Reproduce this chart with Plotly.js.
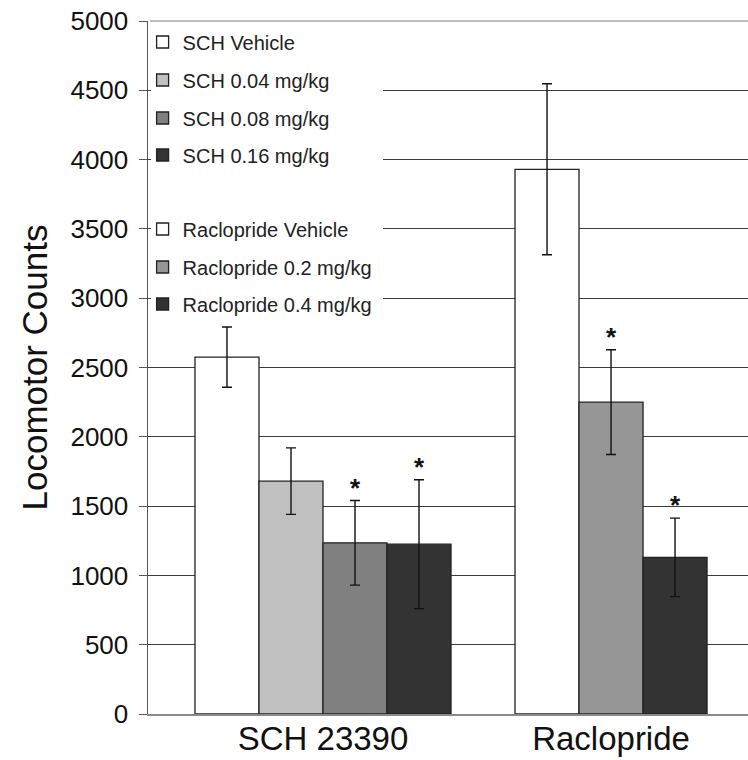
<!DOCTYPE html>
<html>
<head>
<meta charset="utf-8">
<script src="https://cdn.plot.ly/plotly-3.0.1.min.js"></script>
<style>
  html, body { margin: 0; padding: 0; background: #fff; }
  #chart { width: 748px; height: 760px; }
</style>
</head>
<body>
<div id="chart"></div>
<script>
// ---- data ----
const groups = ["SCH 23390", "Raclopride"];
const schNames = ["SCH Vehicle", "SCH 0.04 mg/kg", "SCH 0.08 mg/kg", "SCH 0.16 mg/kg"];
const schMeans = [2575, 1680, 1235, 1225];
const schErr = [217, 240, 305, 465];
const schSig = [false, false, true, true];
const racNames = ["Raclopride Vehicle", "Raclopride 0.2 mg/kg", "Raclopride 0.4 mg/kg"];
const racMeans = [3930, 2250, 1130];
const racErr = [617, 378, 283];
const racSig = [false, true, true];
const yTicks = [0, 500, 1000, 1500, 2000, 2500, 3000, 3500, 4000, 4500, 5000];

// ---- styles ----
const schColors = ["#ffffff", "#c0c0c0", "#808080", "#333333"];
const racColors = ["#ffffff", "#969696", "#333333"];
const FONT = "Liberation Sans, Arial, sans-serif";

// legend item vertical centres (pixels from top of figure)
const legendPix = [42, 80, 118, 155, 229, 267, 304];
const plotTop = 21, plotBottom = 714, plotLeft = 148, plotRight = 748;
const plotH = plotBottom - plotTop, plotW = plotRight - plotLeft;

const traces = [];
const annotations = [];
let legendIdx = 0;

function addSeries(names, means, errs, sigs, colors, startPos) {
  names.forEach((nm, i) => {
    const pos = startPos + i;
    const lname = legendIdx === 0 ? "legend" : "legend" + (legendIdx + 1);
    traces.push({
      type: "bar",
      name: nm,
      x: [pos],
      y: [means[i]],
      width: 1,
      legend: lname,
      marker: { color: colors[i], line: { color: "#222222", width: 1.3 } },
      error_y: { type: "data", array: [errs[i]], visible: true, color: "#111111", thickness: 1.4, width: 5 },
      hoverinfo: "name+y"
    });
    if (sigs[i]) {
      annotations.push({
        x: pos, y: means[i] + errs[i], xref: "x", yref: "y",
        text: "<b>*</b>", showarrow: false, yanchor: "bottom",
        yshift: -4, font: { family: FONT, size: 26, color: "#111" }
      });
    }
    legendIdx++;
  });
}

addSeries(schNames, schMeans, schErr, schSig, schColors, 0);
const racStart = schNames.length + 1;
addSeries(racNames, racMeans, racErr, racSig, racColors, racStart);

const tickCenters = [(schNames.length - 1) / 2, racStart + (racNames.length - 1) / 2];

const layout = {
  width: 748, height: 760,
  margin: { l: plotLeft, r: 748 - plotRight, t: plotTop, b: 760 - plotBottom },
  paper_bgcolor: "#fff", plot_bgcolor: "#fff",
  bargap: 0,
  barmode: "overlay",
  font: { family: FONT, color: "#111" },
  xaxis: {
    range: [-1.234, 8.14],
    tickvals: tickCenters,
    ticktext: groups,
    showgrid: false, zeroline: false,
    showline: true, linecolor: "#8a8a8a", linewidth: 1.5,
    ticks: "", ticklabelstandoff: -5,
    tickfont: { family: FONT, size: 33, color: "#111" },
    fixedrange: true
  },
  yaxis: {
    range: [0, 5000],
    tickvals: yTicks,
    showgrid: true, gridcolor: "#3c3c3c", gridwidth: 1,
    zeroline: false,
    showline: true, linecolor: "#555", linewidth: 1.5,
    ticks: "outside", ticklen: 8, tickcolor: "#555", tickwidth: 1,
    ticklabelstandoff: 5,
    tickfont: { family: FONT, size: 26, color: "#111" },
    title: { text: "Locomotor Counts", font: { family: FONT, size: 35, color: "#111" }, standoff: 12 },
    fixedrange: true
  },
  shapes: [
    { type: "rect", xref: "paper", yref: "paper", layer: "above",
      x0: 0.005, x1: (383 - plotLeft) / plotW,
      y0: (plotBottom - 322) / plotH, y1: 0.996,
      fillcolor: "#ffffff", line: { width: 0 } },
    { type: "line", xref: "paper", yref: "paper", layer: "above",
      x0: 0.003, x1: 1, y0: 1, y1: 1, line: { color: "#a8a8a8", width: 1.5 } }
  ],
  annotations: annotations,
  showlegend: true
};

for (let k = 0; k < legendPix.length; k++) {
  const key = k === 0 ? "legend" : "legend" + (k + 1);
  layout[key] = {
    x: -0.009, xanchor: "left",
    y: (plotBottom - legendPix[k]) / plotH, yanchor: "middle",
    bgcolor: "rgba(0,0,0,0)", borderwidth: 0,
    font: { family: FONT, size: 20, color: "#222" },
    itemclick: false, itemdoubleclick: false
  };
}

Plotly.newPlot("chart", traces, layout, { displayModeBar: false, staticPlot: true });
</script>
</body>
</html>
